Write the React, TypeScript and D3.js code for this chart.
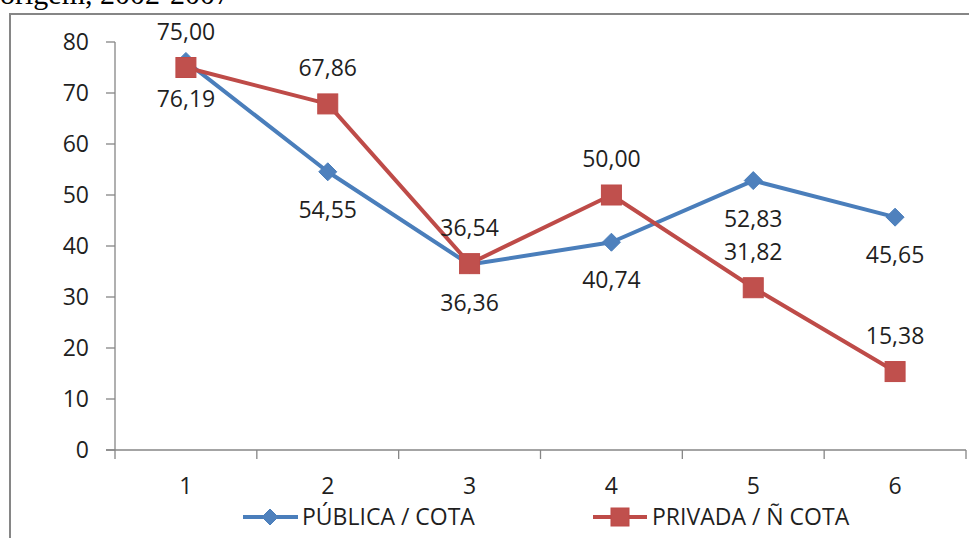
import React, { useEffect, useRef } from "react";
import * as d3 from "d3";

const categories = ["1", "2", "3", "4", "5", "6"];
const publicaValues = [76.19, 54.55, 36.36, 40.74, 52.83, 45.65];
const privadaValues = [75.0, 67.86, 36.54, 50.0, 31.82, 15.38];
const yTicks = [0, 10, 20, 30, 40, 50, 60, 70, 80];
const seriesNames = ["PÚBLICA / COTA", "PRIVADA / Ñ COTA"];
const titleText = "origem, 2002-2007";

const fmt = (v: number) => v.toFixed(2).replace(".", ",");

export default function App() {
  const ref = useRef<SVGSVGElement>(null);

  useEffect(() => {
    const svg = d3.select(ref.current);
    svg.selectAll("*").remove();

    const font = "'Open Sans', sans-serif";
    const fs = 23;
    const blueLine = "#4A7EBB";
    const blueFill = "#4F81BD";
    const redLine = "#BE4B48";
    const redFill = "#C0504D";
    const axisColor = "#868686";
    const textColor = "#1f1f1f";

    // title (cut-off at top like the reference)
    svg
      .append("text")
      .attr("x", 0)
      .attr("y", 4)
      .attr("font-family", "'Liberation Serif', serif")
      .attr("font-size", 30)
      .attr("fill", "#000")
      .text(titleText);

    // chart frame
    svg
      .append("rect")
      .attr("x", 10)
      .attr("y", 14)
      .attr("width", 1000)
      .attr("height", 600)
      .attr("fill", "#fff")
      .attr("stroke", axisColor)
      .attr("stroke-width", 2);

    const x = d3.scaleBand<string>().domain(categories).range([115, 966]).padding(0);
    const y = d3.scaleLinear().domain([0, 80]).range([450, 42]);
    const cx = (c: string) => (x(c) as number) + x.bandwidth() / 2;

    // y axis
    const g = svg.append("g");
    g.append("line")
      .attr("x1", 115).attr("x2", 115)
      .attr("y1", y(80)).attr("y2", y(0))
      .attr("stroke", axisColor).attr("stroke-width", 1.3);
    yTicks.forEach((t) => {
      g.append("line")
        .attr("x1", 106).attr("x2", 115)
        .attr("y1", y(t)).attr("y2", y(t))
        .attr("stroke", axisColor).attr("stroke-width", 1.3);
      g.append("text")
        .attr("x", 89)
        .attr("y", y(t) + 8)
        .attr("text-anchor", "end")
        .attr("font-family", font)
        .attr("font-size", fs)
        .attr("fill", textColor)
        .text(String(t));
    });

    // x axis
    g.append("line")
      .attr("x1", 106).attr("x2", 966)
      .attr("y1", y(0)).attr("y2", y(0))
      .attr("stroke", axisColor).attr("stroke-width", 1.3);
    const edges = categories.map((c) => x(c) as number).concat([966]);
    edges.forEach((e) => {
      g.append("line")
        .attr("x1", e).attr("x2", e)
        .attr("y1", y(0)).attr("y2", y(0) + 9)
        .attr("stroke", axisColor).attr("stroke-width", 1.3);
    });
    categories.forEach((c) => {
      g.append("text")
        .attr("x", cx(c))
        .attr("y", 494)
        .attr("text-anchor", "middle")
        .attr("font-family", font)
        .attr("font-size", fs)
        .attr("fill", textColor)
        .text(c);
    });

    const line = d3
      .line<number>()
      .x((_, i) => cx(categories[i]))
      .y((d) => y(d));

    svg.append("path")
      .attr("d", line(publicaValues) as string)
      .attr("fill", "none")
      .attr("stroke", blueLine)
      .attr("stroke-width", 4)
      .attr("stroke-linejoin", "round");
    svg.append("path")
      .attr("d", line(privadaValues) as string)
      .attr("fill", "none")
      .attr("stroke", redLine)
      .attr("stroke-width", 4)
      .attr("stroke-linejoin", "round");

    const diamond = (px: number, py: number, r: number) =>
      `M${px},${py - r}L${px + r},${py}L${px},${py + r}L${px - r},${py}Z`;

    publicaValues.forEach((v, i) => {
      svg.append("path")
        .attr("d", diamond(cx(categories[i]), y(v), 9))
        .attr("fill", blueFill)
        .attr("stroke", blueLine)
        .attr("stroke-width", 1);
    });
    privadaValues.forEach((v, i) => {
      svg.append("rect")
        .attr("x", cx(categories[i]) - 10)
        .attr("y", y(v) - 10)
        .attr("width", 20)
        .attr("height", 20)
        .attr("fill", redFill)
        .attr("stroke", redLine)
        .attr("stroke-width", 1);
    });

    publicaValues.forEach((v, i) => {
      svg.append("text")
        .attr("x", cx(categories[i]))
        .attr("y", y(v) + 46)
        .attr("text-anchor", "middle")
        .attr("font-family", font)
        .attr("font-size", fs)
        .attr("fill", textColor)
        .text(fmt(v));
    });
    privadaValues.forEach((v, i) => {
      svg.append("text")
        .attr("x", cx(categories[i]))
        .attr("y", y(v) - 28)
        .attr("text-anchor", "middle")
        .attr("font-family", font)
        .attr("font-size", fs)
        .attr("fill", textColor)
        .text(fmt(v));
    });

    // legend
    const ly = 517;
    const lg = svg.append("g");
    lg.append("line").attr("x1", 243).attr("x2", 298).attr("y1", ly).attr("y2", ly)
      .attr("stroke", blueLine).attr("stroke-width", 4);
    lg.append("path").attr("d", diamond(270, ly, 8)).attr("fill", blueFill).attr("stroke", blueLine);
    lg.append("text").attr("x", 302).attr("y", ly + 8)
      .attr("font-family", font).attr("font-size", fs).attr("fill", textColor)
      .text(seriesNames[0]);

    lg.append("line").attr("x1", 593).attr("x2", 647).attr("y1", ly).attr("y2", ly)
      .attr("stroke", redLine).attr("stroke-width", 4);
    lg.append("rect").attr("x", 611).attr("y", ly - 9).attr("width", 18).attr("height", 18)
      .attr("fill", redFill).attr("stroke", redLine);
    lg.append("text").attr("x", 652).attr("y", ly + 8)
      .attr("font-family", font).attr("font-size", fs).attr("fill", textColor)
      .text(seriesNames[1]);
  }, []);

  return (
    <svg
      ref={ref}
      width={969}
      height={538}
      style={{ position: "absolute", left: 0, top: 0, background: "#fff" }}
    />
  );
}
